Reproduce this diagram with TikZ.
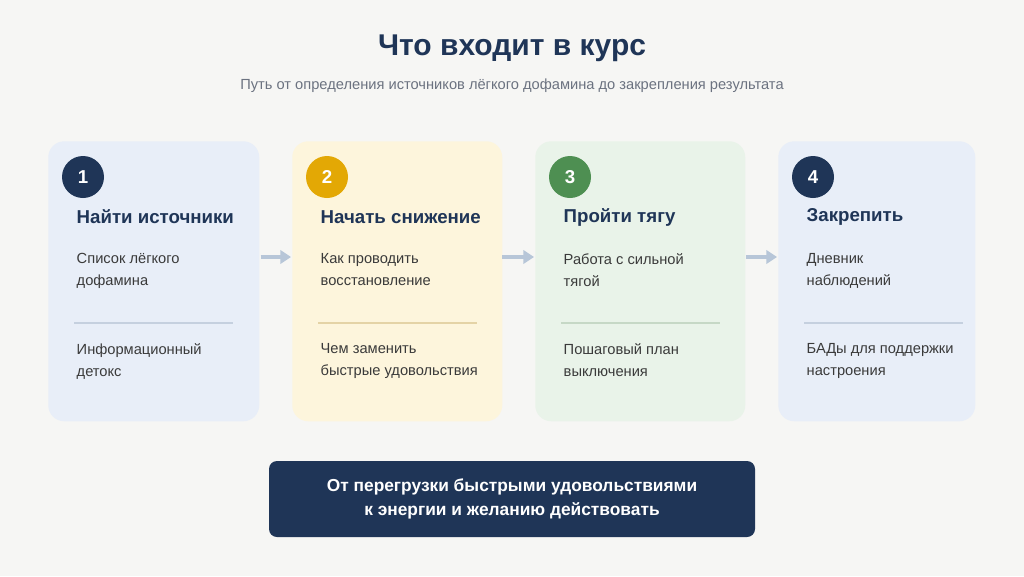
\documentclass[tikz,border=0pt]{standalone}
\usepackage{fontspec}
\setmainfont{Liberation Sans}
\usetikzlibrary{arrows.meta}
\definecolor{bg}{HTML}{F6F6F4}
\definecolor{navy}{HTML}{1F3557}
\definecolor{gold}{HTML}{E3A805}
\definecolor{grn}{HTML}{4E8F52}
\definecolor{cblue}{HTML}{E8EEF8}
\definecolor{cyel}{HTML}{FDF5DC}
\definecolor{cgrn}{HTML}{E9F3E9}
\definecolor{txt}{HTML}{3A3A3A}
\definecolor{sub}{HTML}{6B7280}
\definecolor{arr}{HTML}{B7C6D8}
\begin{document}
\begin{tikzpicture}[x=0.75pt,y=-0.75pt,
 card/.style={rounded corners=12pt,inner sep=0},
 num/.style={circle,minimum size=31.5pt,inner sep=0,text=white,font=\fontsize{14}{16}\selectfont\bfseries},
 head/.style={anchor=west,text=navy,font=\fontsize{14}{16}\selectfont\bfseries},
 item/.style={anchor=north west,text=txt,align=left,font=\fontsize{11}{16.5}\selectfont},
 conn/.style={arr,line width=3pt,-{Triangle[length=8pt,width=10pt]}}]
\fill[bg] (0,0) rectangle (1024,576);
\useasboundingbox (0,0) rectangle (1024,576);
\node[text=navy,font=\fontsize{22.5}{26}\selectfont\bfseries] (t) at (512,48) {Что входит в курс};
\node[text=sub,font=\fontsize{11}{13}\selectfont] (s) at (512,86) {Путь от определения источников лёгкого дофамина до закрепления результата};
\foreach \i/\xa/\xb/\fc/\cc/\dc/\h/\a/\b in {
 1/48/259/cblue/navy/C5D0DF/Найти источники/{Список лёгкого\\дофамина}/{Информационный\\детокс},
 2/292/502/cyel/gold/E4D3A6/Начать снижение/{Как проводить\\восстановление}/{Чем заменить\\быстрые удовольствия},
 3/535/745/cgrn/grn/C6D8C6/Пройти тягу/{Работа с сильной\\тягой}/{Пошаговый план\\выключения},
 4/778/975/cblue/navy/C5D0DF/Закрепить/{Дневник\\наблюдений}/{БАДы для поддержки\\настроения}}{
 \definecolor{dc}{HTML}{\dc}
 \node[card,fill=\fc,minimum width={(\xb-\xa)*0.75pt},minimum height={280*0.75pt},anchor=north west] (c\i) at (\xa,141) {};
 \node[num,fill=\cc] (n\i) at (\xa+35,177) {\i};
 \node[head] (h\i) at (\xa+24,217) {\h};
 \node[item] (a\i) at (\xa+24,249) {\a};
 \draw[dc,line width=0.8pt] (\xa+26,323) -- (\xa+185,323);
 \node[item] (b\i) at (\xa+24,339) {\b};
}
\draw[conn] (c1.east|-0,257) ++(1,0) -- (291,257);
\draw[conn] (502,257) -- (534,257);
\draw[conn] (746,257) -- (777,257);
\node[fill=navy,rounded corners=6pt,minimum width={486*0.75pt},minimum height={76*0.75pt},text=white,align=center,font=\fontsize{13}{18}\selectfont\bfseries] (f) at (512,499) {От перегрузки быстрыми удовольствиями\\к энергии и желанию действовать};
\end{tikzpicture}
\end{document}
